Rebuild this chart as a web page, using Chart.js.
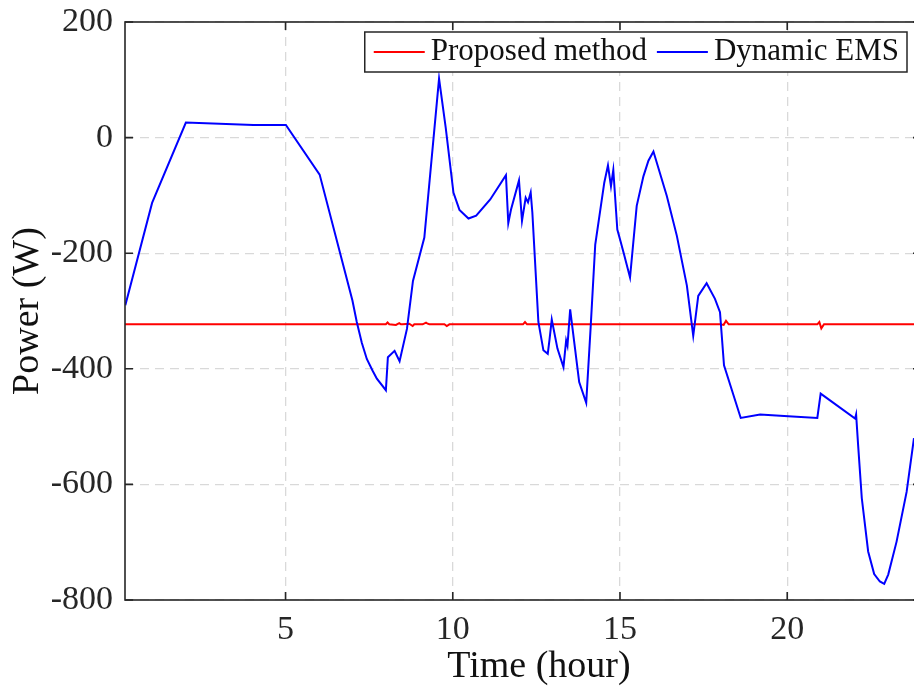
<!DOCTYPE html>
<html>
<head>
<meta charset="utf-8">
<script src="https://cdn.jsdelivr.net/npm/chart.js@4.4.1/dist/chart.umd.min.js"></script>
<style>
html, body { margin: 0; padding: 0; background: #fff; overflow: hidden; }
canvas { display: block; }
</style>
</head>
<body>
<canvas id="power-canvas" width="930" height="687"></canvas>
<script>
// tick labels
var xTicks = [5, 10, 15, 20];
var yTicks = [200, 0, -200, -400, -600, -800];

// Proposed method (red)
var proposedHours = [0.2, 1.0, 2.0, 3.0, 4.0, 5.0, 6.0, 7.0, 8.0, 8.05, 8.1, 8.3, 8.4, 8.45, 8.5, 8.7, 8.8, 8.85,
    8.9, 9.1, 9.2, 9.25, 9.3, 9.75, 9.82, 9.9, 11.0, 12.1, 12.16, 12.22, 13.0, 14.0, 15.0, 16.0, 17.0, 18.0,
    18.1, 18.17, 18.25, 18.5, 19.0, 20.0, 20.9, 20.96, 21.02, 21.1, 22.0, 23.0, 24.0];
var proposedPower = [-323, -323, -323, -323, -323, -323, -323, -323, -323, -320, -323, -324, -321, -323, -323, -322, -326, -323,
    -323, -323, -320, -322, -323, -323, -326, -323, -323, -323, -319, -323, -323, -323, -323, -323, -323, -323,
    -324, -317, -323, -323, -323, -323, -323, -319, -330, -323, -323, -323, -323];

// Dynamic EMS (blue)
var dynamicHours = [0.21, 1.01, 2.02, 4.04, 5.01, 6.02, 7.0, 7.13, 7.28, 7.43, 7.6, 7.73, 8.0, 8.06, 8.26, 8.41, 8.63, 8.81,
    9.15, 9.59, 9.79, 10.02, 10.2, 10.47, 10.7, 11.12, 11.59, 11.66, 11.74, 11.98, 12.07, 12.18, 12.25, 12.33,
    12.38, 12.56, 12.71, 12.84, 12.89, 12.96, 13.13, 13.31, 13.39, 13.43, 13.51, 13.78, 13.99, 14.12, 14.26,
    14.53, 14.64, 14.73, 14.8, 14.92, 15.0, 15.12, 15.3, 15.5, 15.7, 15.85, 16.0, 16.4, 16.7, 17.0, 17.19, 17.34,
    17.59, 17.84, 17.99, 18.11, 18.61, 19.19, 20.03, 20.9, 21.0, 22.03, 22.06, 22.12, 22.23, 22.42, 22.6, 22.77,
    22.9, 23.02, 23.27, 23.57, 23.79];
var dynamicPower = [-290, -113, 26, 22, 22, -64, -282, -319, -355, -383, -403, -417, -437, -380, -369, -387, -331, -248,
    -173, 102, 17, -95, -125, -140, -135, -107, -65, -148, -125, -74, -144, -104, -112, -95,
    -130, -319, -368, -374, -351, -315, -365, -397, -351, -360, -297, -423, -459, -331, -185,
    -78, -48, -84, -56, -159, -176, -202, -242, -118, -67, -40, -24, -101, -170, -256, -343, -274,
    -252, -279, -302, -394, -485, -479, -482, -485, -443, -486, -479, -532, -624, -716, -755, -768,
    -772, -756, -699, -613, -520];

var toPoints = function(xs, ys) {
    var pts = [];
    for (var i = 0; i < xs.length; i++) {
        pts.push({x: xs[i], y: ys[i]});
    }
    return pts;
};

var serif = '"Liberation Serif", "Times New Roman", serif';
var axisColor = '#262626';

// box, inward ticks, legend and axis titles, drawn the matlab way
var matlabFrame = {
    id: 'matlabFrame',
    afterDraw: function(chart) {
        var ctx = chart.ctx;
        var area = chart.chartArea;
        var xs = chart.scales.x, ys = chart.scales.y;
        ctx.save();
        ctx.strokeStyle = axisColor;
        ctx.lineWidth = 1.6;
        ctx.beginPath();
        xTicks.forEach(function(v) {
            var px = xs.getPixelForValue(v);
            ctx.moveTo(px, area.bottom); ctx.lineTo(px, area.bottom - 8);
            ctx.moveTo(px, area.top); ctx.lineTo(px, area.top + 8);
        });
        yTicks.forEach(function(v) {
            var py = ys.getPixelForValue(v);
            ctx.moveTo(area.left, py); ctx.lineTo(area.left + 8, py);
            ctx.moveTo(area.right, py); ctx.lineTo(area.right - 8, py);
        });
        ctx.stroke();
        ctx.strokeRect(area.left, area.top, area.right - area.left, area.bottom - area.top);

        // legend
        ctx.font = '31px ' + serif;
        var sets = chart.data.datasets;
        var padL = 9, padR = 8, lineLen = 51, gapText = 6, gapItem = 10;
        var w = padL + padR;
        sets.forEach(function(d, i) {
            w += lineLen + gapText + ctx.measureText(d.label).width;
            if (i > 0) w += gapItem;
        });
        var right = 907, top = 32, h = 40;
        var left = right - w;
        ctx.fillStyle = '#fff';
        ctx.fillRect(left, top, w, h);
        ctx.lineWidth = 1.5;
        ctx.strokeStyle = axisColor;
        ctx.strokeRect(left, top, w, h);
        var cx = left + padL, cy = top + h / 2;
        ctx.textBaseline = 'middle';
        ctx.textAlign = 'left';
        sets.forEach(function(d, i) {
            if (i > 0) cx += gapItem;
            ctx.strokeStyle = d.borderColor;
            ctx.lineWidth = 2;
            ctx.beginPath();
            ctx.moveTo(cx, cy); ctx.lineTo(cx + lineLen, cy);
            ctx.stroke();
            cx += lineLen + gapText;
            ctx.fillStyle = '#111';
            ctx.fillText(d.label, cx, cy);
            cx += ctx.measureText(d.label).width;
        });

        // axis titles
        ctx.font = '38px ' + serif;
        ctx.fillStyle = '#111';
        ctx.textAlign = 'center';
        ctx.textBaseline = 'alphabetic';
        ctx.fillText('Time (hour)', 539, 677);
        ctx.translate(38, (area.top + area.bottom) / 2);
        ctx.rotate(-Math.PI / 2);
        ctx.fillText('Power (W)', 0, 0);
        ctx.restore();
    }
};

window.onload = function() {
    var ctx = document.getElementById('power-canvas').getContext('2d');
    var config = {
        type: 'line',
        data: {
            datasets: [{
                label: 'Proposed method',
                data: toPoints(proposedHours, proposedPower),
                borderColor: '#ff0000',
                borderWidth: 2,
                pointRadius: 0,
                tension: 0,
                order: 2
            }, {
                label: 'Dynamic EMS',
                data: toPoints(dynamicHours, dynamicPower),
                borderColor: '#0000ff',
                borderWidth: 2,
                pointRadius: 0,
                tension: 0,
                order: 1
            }]
        },
        options: {
            responsive: false,
            animation: false,
            layout: { padding: { top: 22, right: 9, left: 0, bottom: 0 } },
            plugins: { legend: { display: false }, tooltip: { enabled: false } },
            scales: {
                x: {
                    type: 'linear',
                    min: 0.2,
                    max: 24,
                    afterBuildTicks: function(s) { s.ticks = xTicks.map(function(v) { return {value: v}; }); },
                    afterFit: function(s) { s.height = 87; s.paddingLeft = 0; s.paddingRight = 0; },
                    grid: { color: '#d9d9d9', lineWidth: 1.3, drawTicks: false },
                    border: { display: false, dash: [9, 6] },
                    ticks: { autoSkip: false, maxRotation: 0, padding: 10, color: axisColor, font: { family: serif, size: 34 } }
                },
                y: {
                    min: -800,
                    max: 200,
                    afterBuildTicks: function(s) { s.ticks = yTicks.map(function(v) { return {value: v}; }); },
                    afterFit: function(s) { s.width = 125; s.paddingTop = 0; s.paddingBottom = 0; },
                    grid: { color: '#d9d9d9', lineWidth: 1.3, drawTicks: false },
                    border: { display: false, dash: [9, 6] },
                    ticks: { padding: 12, color: axisColor, font: { family: serif, size: 34 } }
                }
            }
        },
        plugins: [matlabFrame]
    };
    new Chart(ctx, config);
};
</script>
</body>
</html>
